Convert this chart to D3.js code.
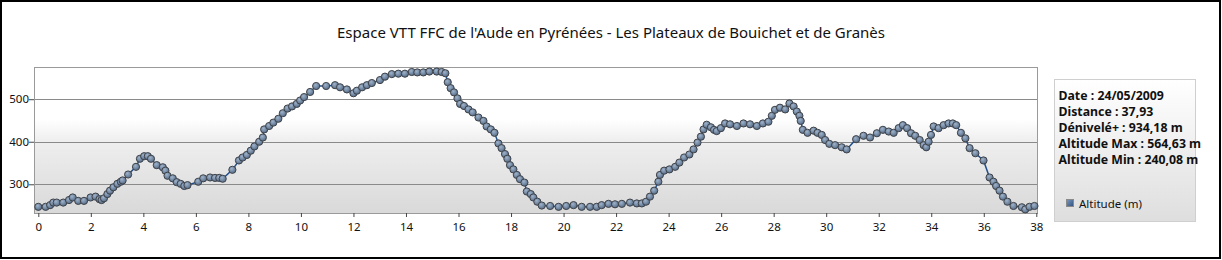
<!DOCTYPE html>
<html>
<head>
<meta charset="utf-8">
<script src="https://cdn.jsdelivr.net/npm/d3@7"></script>
<style>
  body { margin: 0; background: #fff; }
  svg { display: block; }
  text { font-family: "Segoe UI", "Noto Sans", sans-serif; }
</style>
</head>
<body>
<div id="chart"></div>
<script>
const title = "Espace VTT FFC de l'Aude en Pyrénées - Les Plateaux de Bouichet et de Granès";
const seriesName = "Altitude (m)";
const infoLines = [
  "Date : 24/05/2009",
  "Distance : 37,93",
  "Dénivelé+ : 934,18 m",
  "Altitude Max : 564,63 m",
  "Altitude Min : 240,08 m"
];

// distance (km) and altitude (m)
const distance = [
  0, 0.28, 0.45, 0.57, 0.70, 0.95, 1.17, 1.31, 1.52, 1.74, 1.99, 2.18, 2.33, 2.41, 2.50,
  2.63, 2.73, 2.86, 3.01, 3.14, 3.21, 3.42, 3.72, 3.87, 4.03, 4.17, 4.29, 4.51, 4.74, 4.84,
  4.92, 5.12, 5.27, 5.42, 5.56, 5.68, 6.09, 6.28, 6.54, 6.73, 6.89, 7.02, 7.39, 7.64, 7.78,
  7.94, 8.09, 8.23, 8.41, 8.55, 8.60, 8.79, 8.95, 9.14, 9.31, 9.49, 9.66, 9.84, 9.97, 10.12,
  10.35, 10.58, 10.96, 11.30, 11.49, 11.75, 12.00, 12.13, 12.33, 12.51, 12.70, 13.01, 13.20, 13.46, 13.71,
  13.96, 14.22, 14.43, 14.66, 14.89, 15.17, 15.36, 15.50, 15.59, 15.70, 15.83, 15.96, 16.06, 16.21, 16.38,
  16.54, 16.76, 16.95, 17.07, 17.23, 17.37, 17.52, 17.64, 17.77, 17.86, 17.96, 18.09, 18.22, 18.34, 18.51,
  18.60, 18.75, 18.85, 19.00, 19.17, 19.49, 19.81, 20.10, 20.38, 20.69, 21.01, 21.26, 21.45, 21.71, 21.96,
  22.22, 22.53, 22.79, 22.98, 23.14, 23.29, 23.45, 23.61, 23.67, 23.83, 24.03, 24.25, 24.41, 24.59, 24.79,
  24.95, 25.10, 25.23, 25.33, 25.45, 25.61, 25.73, 25.83, 25.99, 26.15, 26.34, 26.60, 26.85, 27.10, 27.36,
  27.59, 27.80, 27.93, 28.05, 28.24, 28.44, 28.60, 28.76, 28.88, 28.98, 29.03, 29.11, 29.29, 29.52, 29.67,
  29.83, 29.96, 30.12, 30.34, 30.59, 30.78, 31.14, 31.42, 31.67, 31.93, 32.16, 32.38, 32.57, 32.76, 32.92,
  33.08, 33.23, 33.39, 33.56, 33.71, 33.81, 33.90, 33.99, 34.09, 34.28, 34.47, 34.66, 34.82, 34.95, 35.13,
  35.30, 35.46, 35.68, 35.99, 36.22, 36.37, 36.47, 36.60, 36.73, 36.90, 37.13, 37.45, 37.58, 37.74, 37.93
];
const altitude = [
  247, 247, 251, 257, 257, 257, 263, 269, 261, 261, 269, 271, 265, 263, 267,
  277, 285, 293, 301, 306, 309, 323, 341, 360, 366, 366, 360, 345, 340, 332,
  320, 314, 305, 301, 296, 298, 306, 314, 316, 315, 315, 313, 334, 356, 363,
  369, 379, 389, 400, 410, 429, 437, 445, 454, 467, 478, 483, 489, 497, 505,
  517, 531, 531, 533, 528, 523, 514, 520, 528, 533, 538, 545, 553, 559, 560,
  560, 564, 563, 563, 565, 565, 564, 561, 540, 526, 516, 502, 489, 484, 476,
  469, 457, 449, 436, 429, 421, 396, 385, 371, 360, 345, 335, 322, 312, 304,
  283, 277, 269, 259, 250, 249, 247, 249, 251, 247, 247, 247, 251, 254, 253,
  254, 257, 255, 255, 259, 271, 285, 306, 322, 332, 335, 341, 351, 363, 370,
  382, 398, 412, 429, 440, 434, 428, 425, 432, 443, 441, 437, 443, 441, 437,
  443, 447, 461, 475, 480, 476, 490, 483, 471, 461, 449, 428, 421, 426, 421,
  416, 404, 395, 392, 387, 382, 406, 414, 410, 420, 428, 424, 421, 432, 439,
  432, 420, 414, 404, 392, 387, 400, 416, 436, 432, 439, 443, 443, 439, 421,
  408, 385, 373, 356, 316, 306, 296, 285, 271, 259, 249, 246, 241, 247, 249
];

const xTicks = [0, 2, 4, 6, 8, 10, 12, 14, 16, 18, 20, 22, 24, 26, 28, 30, 32, 34, 36, 38];
const yTicks = [300, 400, 500];

const width = 1222, height = 260;
const plot = { left: 34, right: 1038, top: 67, bottom: 213 };

const svg = d3.select('#chart')
  .append('svg')
  .attr('width', width)
  .attr('height', height);

const defs = svg.append('defs');

// plot background: white on top, fading to light grey at the bottom
const bg = defs.append('linearGradient')
  .attr('id', 'plotBg')
  .attr('x1', 0).attr('y1', 0).attr('x2', 0).attr('y2', 1);
bg.append('stop').attr('offset', '0').attr('stop-color', '#ffffff');
bg.append('stop').attr('offset', '0.36').attr('stop-color', '#ffffff');
bg.append('stop').attr('offset', '0.5').attr('stop-color', '#efefef');
bg.append('stop').attr('offset', '1').attr('stop-color', '#d9d9d9');

const legBg = defs.append('linearGradient')
  .attr('id', 'legBg')
  .attr('x1', 0).attr('y1', 0).attr('x2', 0).attr('y2', 1);
legBg.append('stop').attr('offset', '0').attr('stop-color', '#ffffff');
legBg.append('stop').attr('offset', '1').attr('stop-color', '#dedede');

const ball = defs.append('radialGradient')
  .attr('id', 'ball')
  .attr('cx', '40%').attr('cy', '35%').attr('r', '65%');
ball.append('stop').attr('offset', '0').attr('stop-color', '#9fb3cb');
ball.append('stop').attr('offset', '1').attr('stop-color', '#566c88');

const swatch = defs.append('linearGradient')
  .attr('id', 'swatch')
  .attr('x1', 0).attr('y1', 0).attr('x2', 1).attr('y2', 1);
swatch.append('stop').attr('offset', '0').attr('stop-color', '#7d9cc4');
swatch.append('stop').attr('offset', '1').attr('stop-color', '#2f4f7a');

// outer frame
svg.append('rect')
  .attr('x', 1).attr('y', 1)
  .attr('width', 1219).attr('height', 257)
  .attr('fill', '#fff')
  .attr('stroke', '#000')
  .attr('stroke-width', 2);

// title
svg.append('text')
  .attr('x', 611)
  .attr('y', 38)
  .attr('text-anchor', 'middle')
  .attr('font-size', 15)
  .attr('fill', '#111')
  .text(title);

const x = d3.scaleLinear().domain([0, 38]).range([38.3, 1036.3]);
const y = d3.scaleLinear().domain([232.5, 575]).range([plot.bottom, 67.3]);

svg.append('rect')
  .attr('x', plot.left).attr('y', plot.top)
  .attr('width', plot.right - plot.left).attr('height', plot.bottom - plot.top)
  .attr('fill', 'url(#plotBg)');

// grid
svg.append('g')
  .selectAll('line')
  .data(yTicks)
  .enter()
  .append('line')
  .attr('x1', plot.left).attr('x2', plot.right)
  .attr('y1', d => Math.round(y(d)) + 0.5)
  .attr('y2', d => Math.round(y(d)) + 0.5)
  .attr('stroke', '#8a8a8a')
  .attr('stroke-width', 1.2);

svg.append('rect')
  .attr('x', plot.left + 0.5).attr('y', plot.top + 0.5)
  .attr('width', plot.right - plot.left - 1).attr('height', plot.bottom - plot.top)
  .attr('fill', 'none')
  .attr('stroke', '#9a9a9a');

// axes
const xAxis = svg.append('g')
  .attr('transform', `translate(0,${plot.bottom})`)
  .call(d3.axisBottom(x).tickValues(xTicks).tickSize(4).tickPadding(6).tickFormat(d3.format('d')));
const yAxis = svg.append('g')
  .attr('transform', `translate(${plot.left},0)`)
  .call(d3.axisLeft(y).tickValues(yTicks).tickSize(5).tickPadding(0).tickFormat(d3.format('d')));

[xAxis, yAxis].forEach(a => {
  a.select('.domain').remove();
  a.selectAll('.tick line').attr('stroke', '#444');
  a.selectAll('.tick text')
    .attr('font-family', '"Segoe UI", "Noto Sans", sans-serif')
    .attr('font-size', 11.5)
    .attr('fill', '#111');
});

// series
const points = distance.map((d, i) => ({ d: d, v: altitude[i] }));

svg.append('path')
  .datum(points)
  .attr('fill', 'none')
  .attr('stroke', '#1f4e8a')
  .attr('stroke-width', 1.5)
  .attr('d', d3.line().x(p => x(p.d)).y(p => y(p.v)));

svg.append('g')
  .selectAll('circle')
  .data(points)
  .enter()
  .append('circle')
  .attr('cx', p => x(p.d))
  .attr('cy', p => y(p.v))
  .attr('r', 3.6)
  .attr('fill', 'url(#ball)')
  .attr('stroke', '#3f4349')
  .attr('stroke-width', 1);

// legend / info box
const leg = svg.append('g').attr('transform', 'translate(1054,79)');
leg.append('rect')
  .attr('x', 0.5).attr('y', 0.5)
  .attr('width', 141).attr('height', 142)
  .attr('fill', 'url(#legBg)')
  .attr('stroke', '#cfcfcf');

leg.selectAll('text.info')
  .data(infoLines)
  .enter()
  .append('text')
  .attr('class', 'info')
  .attr('x', 4.5)
  .attr('y', (d, i) => 21 + i * 16)
  .attr('font-size', 12.3)
  .attr('font-weight', 'bold')
  .attr('fill', '#111')
  .text(d => d);

leg.append('rect')
  .attr('x', 12.5).attr('y', 120.5)
  .attr('width', 7).attr('height', 7)
  .attr('fill', 'url(#swatch)')
  .attr('stroke', '#8a8a8a');

leg.append('text')
  .attr('x', 25)
  .attr('y', 128.5)
  .attr('font-size', 11.5)
  .attr('fill', '#111')
  .text(seriesName);
</script>
</body>
</html>
